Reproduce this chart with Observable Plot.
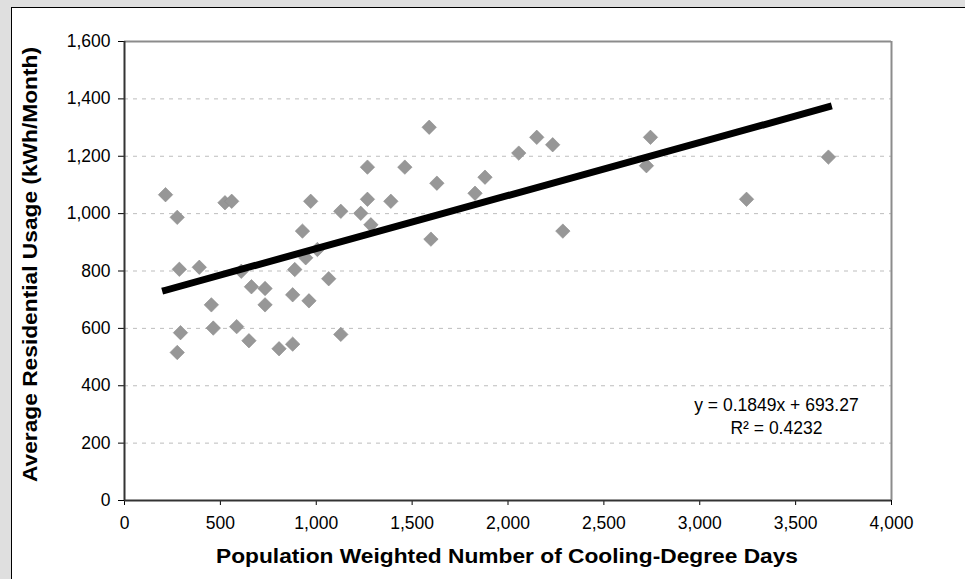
<!DOCTYPE html>
<html>
<head>
<meta charset="utf-8">
<script src="https://cdn.jsdelivr.net/npm/d3@7"></script>
<script src="https://cdn.jsdelivr.net/npm/@observablehq/plot@0.6"></script>
<style>
  html, body { margin: 0; padding: 0; }
  body { width: 965px; height: 579px; background: #dfdfdf; position: relative; overflow: hidden; }
  #panel { position: absolute; left: 11px; top: 7px; width: 970px; height: 590px; background: #fff; border-left: 1px solid #000; border-top: 1px solid #000; }
  #chart { position: absolute; left: 0; top: 0; }
</style>
</head>
<body>
<div id="panel"></div>
<div id="chart"></div>
<script>
// Cooling-degree days (population weighted) per state and average residential usage
const cdd = [214, 275, 524, 559, 971, 286, 390, 609, 453, 662, 733, 733, 292, 275, 463,
  585, 649, 806, 877, 877, 888, 962, 928, 945, 1006, 1065, 1128, 1128, 1232, 1267,
  1285, 1389, 1267, 1462, 1589, 1629, 1598, 1828, 1880, 2056, 2150, 2233, 2286, 2743,
  2722, 3671, 3244];
const kwh = [1066, 987, 1038, 1043, 1043, 806, 813, 799, 682, 745, 739, 682, 585, 516, 601,
  606, 557, 529, 545, 717, 805, 696, 939, 846, 875, 773, 579, 1008, 1001, 1050,
  961, 1043, 1162, 1162, 1301, 1106, 911, 1071, 1127, 1211, 1266, 1240, 939, 1266,
  1167, 1197, 1050];

// Axis ticks
const xTicks = [0, 500, 1000, 1500, 2000, 2500, 3000, 3500, 4000];
const yTicks = [0, 200, 400, 600, 800, 1000, 1200, 1400, 1600];

// Linear trendline as reported on the chart
const slope = 0.1849;
const intercept = 693.27;
const rSquared = 0.4232;

const xTitle = "Population Weighted Number of Cooling-Degree Days";
const yTitle = "Average Residential Usage (kWh/Month)";

const points = cdd.map((x, i) => ({x, y: kwh[i]}));
const [xMin, xMax] = d3.extent(cdd);
const trend = [xMin, xMax].map(x => ({x, y: slope * x + intercept}));

const eqLines = [
  {text: `y = ${slope}x + ${intercept}`, x: 3400, y: 331},
  {text: `R² = ${rSquared}`, x: 3400, y: 251}
];

const xDomain = [xTicks[0], xTicks[xTicks.length - 1]];
const yDomain = [yTicks[0], yTicks[yTicks.length - 1]];
const thousands = d3.format(",d");

const plot = Plot.plot({
  width: 965,
  height: 579,
  marginLeft: 124,
  marginRight: 74,
  marginTop: 41,
  marginBottom: 79,
  style: {
    background: "transparent",
    fontFamily: "'Liberation Sans', Arial, sans-serif",
    fontSize: "17.5px",
    color: "#000"
  },
  x: {domain: xDomain, ticks: xTicks, tickFormat: thousands, tickSize: 5, tickPadding: 11, label: null},
  y: {domain: yDomain, ticks: yTicks, tickFormat: thousands, tickSize: 6, tickPadding: 8, label: null},
  marks: [
    Plot.ruleY(yTicks.slice(1, -1), {stroke: "#bdbdbd", strokeWidth: 1, strokeDasharray: "4,5"}),
    Plot.ruleY([yDomain[1]], {stroke: "#8c8c8c", strokeWidth: 2}),
    Plot.ruleX([xDomain[1]], {stroke: "#8c8c8c", strokeWidth: 2}),
    Plot.dot(points, {x: "x", y: "y", symbol: "diamond2", r: 6.5, fill: "#979797", stroke: "#8a8a8a", strokeWidth: 0.6}),
    Plot.line(trend, {x: "x", y: "y", stroke: "#000", strokeWidth: 7, strokeLinecap: "square"}),
    Plot.ruleX([xDomain[0]], {stroke: "#333", strokeWidth: 2}),
    Plot.ruleY([yDomain[0]], {stroke: "#333", strokeWidth: 2}),
    Plot.text(eqLines, {x: "x", y: "y", text: "text", textAnchor: "middle", fontSize: 17.5, fill: "#000"})
  ]
});

document.getElementById("chart").append(plot);

// Axis titles
const svg = d3.select(plot);
svg.append("text")
  .attr("x", 507)
  .attr("y", 563)
  .attr("text-anchor", "middle")
  .attr("font-weight", "bold")
  .attr("font-size", 19.5)
  .attr("fill", "#000")
  .attr("textLength", 582)
  .attr("lengthAdjust", "spacingAndGlyphs")
  .text(xTitle);
svg.append("text")
  .attr("transform", "translate(37,264.5) rotate(-90)")
  .attr("text-anchor", "middle")
  .attr("font-weight", "bold")
  .attr("font-size", 19.5)
  .attr("fill", "#000")
  .attr("textLength", 435)
  .attr("lengthAdjust", "spacingAndGlyphs")
  .text(yTitle);
</script>
</body>
</html>
